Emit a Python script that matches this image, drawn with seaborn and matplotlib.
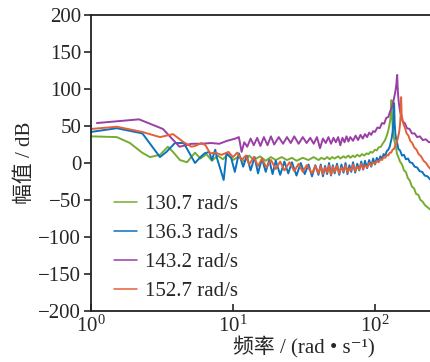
import numpy as np
import pandas as pd
import matplotlib
matplotlib.use("Agg")
import matplotlib.pyplot as plt
import matplotlib.ticker as mticker
import seaborn as sns

# %% data (frequency in rad/s, magnitude in dB)
labels = ["130.7 rad/s", "136.3 rad/s", "143.2 rad/s", "152.7 rad/s"]
colors = ["#77AC30", "#0A72BE", "#9A3FA6", "#E2613A"]

f_green = [1.0, 1.52, 1.88, 2.29, 2.6, 3.06, 3.48, 3.78, 4.23, 4.74, 5.4, 5.9,
           6.5, 7.1, 7.8, 8.5, 9.2, 10, 11, 12, 13, 14, 15.5, 17, 18.5, 20, 22,
           24, 26, 28, 31, 34, 37, 40, 42, 44, 46, 48, 50, 52, 55, 57, 60, 62,
           65, 67, 70, 72, 75, 78, 81, 84, 87, 90, 93, 96, 100, 103, 106, 110,
           114, 117, 120, 122, 124, 126, 128, 129.5, 130.7, 132, 134, 137, 140,
           143, 146, 150, 155, 160, 165, 170, 176, 182, 188, 195, 202, 209, 216,
           225, 235, 245]
db_green = [36, 35, 27, 14, 8, 11, 22, 15, 4, 1, 14, 6,
            12, 3, 10, 5, 12, 4, 9, 2, 10, 4, 9, 3, 8, 4, 8,
            4, 7, 3, 7, 4, 8, 4, 7, 5, 8, 5, 8, 6, 9, 6, 9, 7,
            10, 7, 10, 8, 11, 9, 12, 10, 13, 12, 15, 14, 18, 17, 21, 22,
            27, 30, 35, 39, 44, 50, 58, 67, 85, 62, 42, 30, 23,
            12, 8, 2, -2, -10, -12, -20, -24, -32, -34, -42, -43, -50, -52,
            -57, -60, -63]

f_blue = [1.0, 1.52, 2.3, 3.06, 3.4, 3.9, 4.5, 5.4, 5.9, 6.3, 6.8, 7.1, 7.5,
          7.7, 8.6, 9.0, 9.7, 10.3, 11, 11.8, 12.5, 13.3, 14.2, 15, 16, 17, 18,
          19, 20, 21.5, 23, 24.5, 26, 28, 30, 32, 34, 36, 38, 40, 41.5, 43,
          44.5, 46, 47.5, 49, 50.5, 52, 54, 56, 58, 60, 62, 64, 66, 68, 70,
          72.5, 75, 77.5, 80, 82.5, 85, 88, 91, 94, 97, 100, 103, 106, 109,
          112, 115, 118, 121, 124, 127, 129, 131, 133, 135, 136.3, 137.5, 139,
          141, 143, 146, 150, 155, 160, 165, 171, 176, 183, 190, 198, 206,
          215, 224, 234, 244, 255]
db_blue = [42, 47, 40, 8, 15, 27, 27, 0, 8, 13, 15, 4, 18,
           7, -23, 13, 7, -12, 13, -5, 10, -10, 8, -14, 6, -12, 4,
           -15, 3, -16, 2, -14, 1, -17, 0, -15, -2, -18, -3, -16, -2, -18,
           -4, -15, 0, -17, -3, -14, -1, -16, -2, -13, 0, -15, -3, -12, 1,
           -13, -1, -10, 2, -9, 3, -7, 4, -5, 6, -2, 7, 2, 9,
           6, 12, 10, 16, 18, 22, 28, 33, 42, 58, 81, 55, 40,
           32, 28, 19, 17, 10, 11, 5, 6, 1, 0, -5, -6, -11,
           -12, -17, -18, -22, -24]

f_purple = [1.1, 2.18, 3.21, 4.2, 5.1, 6.0, 7.0, 8.0, 9.1, 10.4, 11.0, 11.5,
            12.0, 12.6, 13.3, 14, 14.8, 15.6, 16.5, 17.5, 18.5, 19.5, 21,
            22.5, 24, 25.5, 27, 29, 31, 33, 35, 37, 39, 41, 43, 45, 47, 49, 51,
            53, 55, 57, 59, 61, 63, 65, 67, 70, 73, 76, 79, 82, 85, 88, 91, 94,
            97, 100, 104, 108, 112, 116, 120, 124, 128, 132, 135, 138, 140,
            141.5, 143.2, 145, 147, 150, 153, 157, 162, 168, 175, 182, 190,
            198, 207, 217, 228, 240, 252]
db_purple = [54, 59, 46, 22, 26, 26, 27, 26, 30, 33, 35, 15,
             28, 22, 33, 24, 34, 23, 35, 24, 36, 25, 35,
             26, 35, 27, 36, 26, 35, 27, 34, 26, 35, 20, 33, 27, 35, 26, 34,
             28, 35, 24, 34, 28, 36, 29, 35, 30, 37, 31, 38, 33, 39, 35, 41, 38,
             43, 42, 48, 47, 54, 53, 61, 62, 70, 76, 84, 93, 100,
             107, 119, 95, 82, 70, 64, 56, 54, 47, 46, 40, 40,
             35, 36, 31, 32, 28, 29]

f_orange = [1.0, 1.52, 2.29, 3.06, 3.78, 4.5, 5.1, 5.4, 6.0, 6.4, 6.9, 7.5,
            8.3, 9.3, 10, 10.7, 11.5, 12.3, 13, 14, 15, 16, 17.2, 18.5, 20,
            21.5, 23, 25, 27, 29, 31, 33, 36, 38, 40, 41.5, 43, 44.5, 46, 47.5,
            49, 50.5, 52, 54, 56, 58, 60, 62, 64, 66, 68, 70, 72.5, 75, 77.5,
            80, 82.5, 85, 88, 91, 94, 97, 100, 103, 106, 109, 112, 115, 118,
            121, 124, 127, 130, 133, 136, 139, 142, 145, 148, 150, 151.5,
            152.7, 154, 156, 159, 163, 167, 172, 177, 183, 189, 196, 203, 211,
            220, 229, 238, 248, 260]
db_orange = [46, 49, 42, 35, 39, 28, 22, 23, 27, 24, 13, 14,
             11, 15, 8, 14, 4, 10, -2, 8, -4, 6, -6, 4, -8,
             2, -10, 1, -11, -1, -12, -3, -14, -4, -14, -4, -15, -6, -13, -3,
             -16, -5, -12, -4, -14, -6, -11, -3, -13, -7, -10, -2, -11, -5, -9,
             -1, -8, -3, -6, 0, -4, 1, -1, 3, 1, 5, 4, 8, 7,
             11, 10, 14, 14, 18, 19, 24, 27, 34, 42, 52, 65,
             89, 66, 58, 52, 47, 40, 37, 30, 27, 21, 18, 12, 9,
             3, 0, -5, -9, -14]

series = [(f_green, db_green), (f_blue, db_blue),
          (f_purple, db_purple), (f_orange, db_orange)]

# %% plot
sns.set_style("ticks")
plt.rcParams["font.family"] = ["Liberation Serif", "Noto Sans CJK SC",
                               "DejaVu Sans"]
plt.rcParams["mathtext.fontset"] = "stix"
plt.rcParams["axes.unicode_minus"] = True

fig = plt.figure(figsize=(4.3, 3.62), dpi=100)
# axes run on past the right edge of the picture (cropped figure)
ax = fig.add_axes([91 / 430, 51 / 362, 426 / 430, 296 / 362])

for (f, db), lab, c in zip(series, labels, colors):
    d = pd.DataFrame({"f": f, "db": db})
    sns.lineplot(data=d, x="f", y="db", color=c, label=lab, ax=ax,
                 sort=False, estimator=None, linewidth=1.4)

ax.set_xscale("log")
ax.set_xlim(1, 1000)
ax.set_ylim(-200, 200)
ax.set_yticks([200, 150, 100, 50, 0, -50, -100, -150, -200])
ax.xaxis.set_minor_locator(mticker.NullLocator())
ax.set_xticks([1, 10, 100])

for s in ax.spines.values():
    s.set_linewidth(1.3)
    s.set_color("#222222")
ax.tick_params(axis="x", direction="in", length=5, width=1.2,
               labelsize=15, pad=3)
ax.tick_params(axis="y", direction="out", length=5, width=1.2,
               labelsize=15, pad=2)

ax.set_xlabel("频率 / (rad • s⁻¹)", fontsize=15, labelpad=0)
ax.set_ylabel("幅值 / dB", fontsize=15, labelpad=2)

leg = ax.legend(loc="lower left", frameon=False, fontsize=15,
                handlelength=1.1, handletextpad=0.4, labelspacing=0.45,
                borderaxespad=0.3, bbox_to_anchor=(0.02, -0.015))
for h in leg.get_lines():
    h.set_linewidth(1.1)

fig.savefig("out.png", dpi=100)
